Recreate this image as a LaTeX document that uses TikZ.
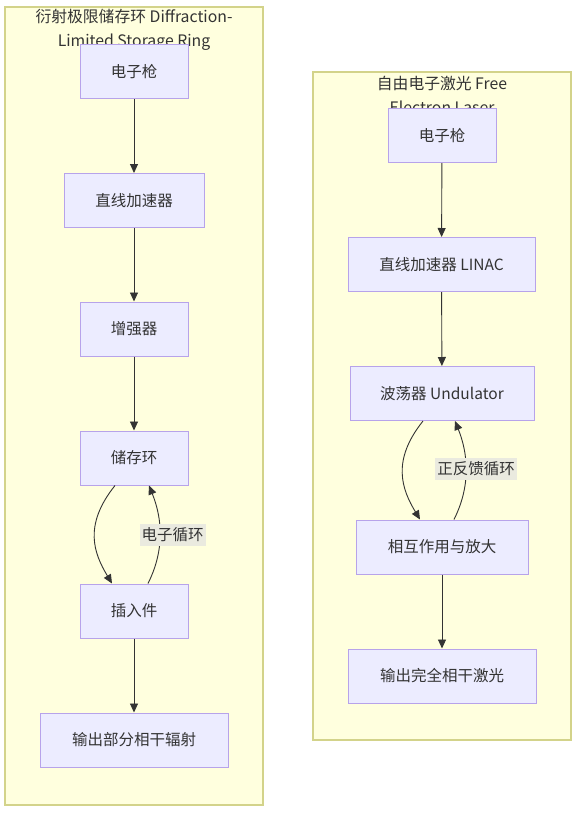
\documentclass[tikz,border=0pt]{standalone}
\usepackage{fontspec}
\setmainfont{Noto Sans CJK SC}
\usetikzlibrary{arrows.meta}
\definecolor{clfill}{HTML}{FFFFDE}
\definecolor{cldraw}{HTML}{D3D38A}
\definecolor{ndfill}{HTML}{ECECFF}
\definecolor{nddraw}{HTML}{B7A3EA}
\definecolor{txt}{HTML}{333333}
\definecolor{lblbg}{HTML}{EAEADF}
\tikzset{
  cluster/.style={draw=cldraw, fill=clfill, line width=1.2pt},
  ctitle/.style={text=txt, font=\fontsize{15.8}{24}\selectfont, align=center, inner sep=0pt},
  box/.style={draw=nddraw, fill=ndfill, line width=1pt, text=txt, font=\fontsize{15.5}{18}\selectfont, minimum height=54pt, inner sep=0pt},
  edge/.style={draw=txt, line width=0.9pt, -{Triangle[length=9pt,width=8pt]}},
  elabel/.style={fill=lblbg, text=txt, font=\fontsize{15.5}{18}\selectfont, inner sep=2pt, minimum height=22pt}
}
\begin{document}
\begin{tikzpicture}[x=1pt,y=-1pt]
\useasboundingbox (0,0) rectangle (588,817);
% clusters
\path[cluster] (5,7) rectangle (263,805);
\path[cluster] (313,72) rectangle (571,740);
\node[ctitle] (t1) at (134,30) {衍射极限储存环 Diffraction-\\Limited Storage Ring};
\node[ctitle] (t2) at (442,95) {自由电子激光 Free\\Electron Laser};
% left nodes
\node[box, minimum width=108pt] (l1) at (134,71.5) {电子枪};
\node[box, minimum width=140pt] (l2) at (134,200.5) {直线加速器};
\node[box, minimum width=108pt] (l3) at (134,329) {增强器};
\node[box, minimum width=108pt] (l4) at (134,458) {储存环};
\node[box, minimum width=108pt] (l5) at (134,611) {插入件};
\node[box, minimum width=188pt] (l6) at (134,740) {输出部分相干辐射};
% right nodes
\node[box, minimum width=108pt] (r1) at (442,135.5) {电子枪};
\node[box, minimum width=187pt] (r2) at (441.5,264.5) {直线加速器 LINAC};
\node[box, minimum width=184pt] (r3) at (442,393.5) {波荡器 Undulator};
\node[box, minimum width=172pt] (r4) at (442,547) {相互作用与放大};
\node[box, minimum width=188pt] (r5) at (442,676) {输出完全相干激光};
% edges left
\draw[edge] (l1) -- (l2);
\draw[edge] (l2) -- (l3);
\draw[edge] (l3) -- (l4);
\draw[edge] ([xshift=-19pt]l4.south) .. controls +(-32,40) and +(-18,-30) .. ([xshift=-22pt]l5.north);
\draw[edge] ([xshift=14pt]l5.north) .. controls +(20,-40) and +(10,25) .. ([xshift=15pt]l4.south);
\node[elabel] (lab1) at (172.5,534.5) {电子循环};
\draw[edge] (l5) -- (l6);
% edges right
\draw[edge] (r1) -- (r2);
\draw[edge] (r2) -- (r3);
\draw[edge] ([xshift=-19pt]r3.south) .. controls +(-32,40) and +(-18,-30) .. ([xshift=-22pt]r4.north);
\draw[edge] ([xshift=12pt]r4.north) .. controls +(20,-40) and +(10,25) .. ([xshift=13pt]r3.south);
\node[elabel] (lab2) at (476,469) {正反馈循环};
\draw[edge] (r4) -- (r5);
\end{tikzpicture}
\end{document}
